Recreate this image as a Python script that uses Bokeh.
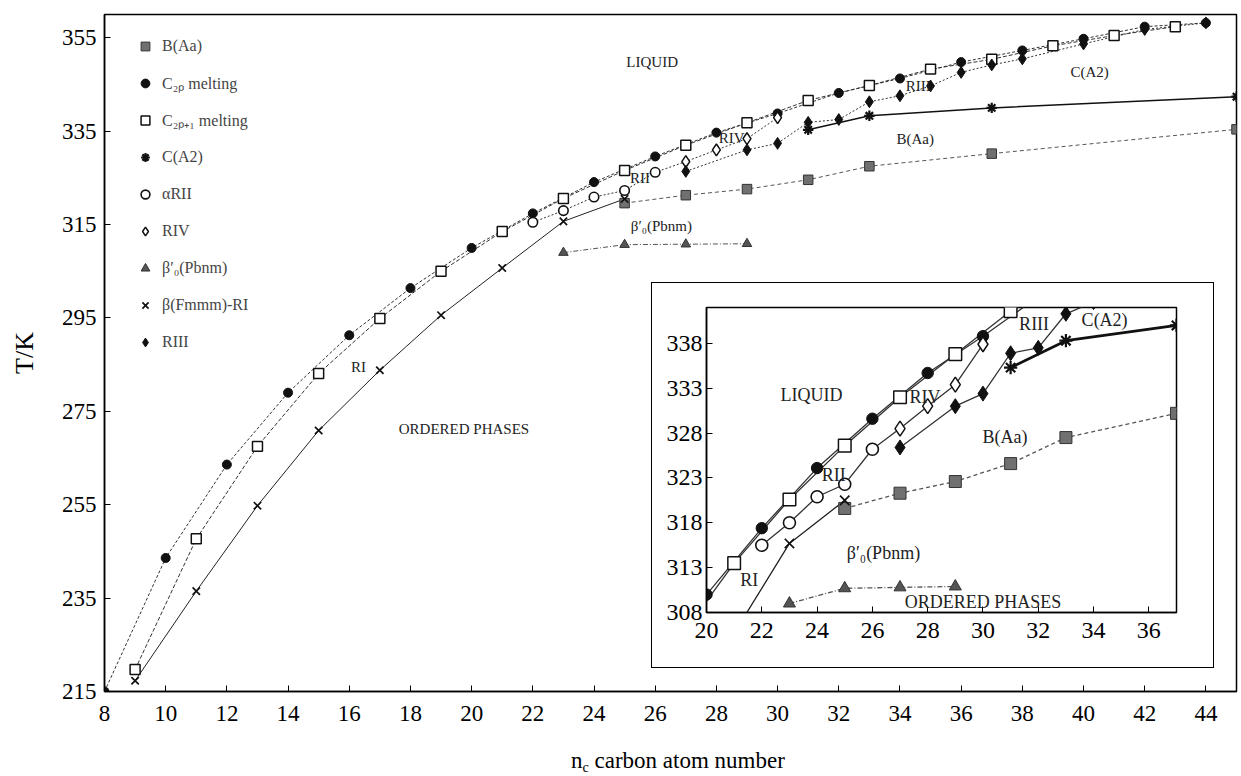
from bokeh.plotting import figure
from bokeh.models import FixedTicker, Legend, LegendItem, Label, Range1d, Div
from bokeh.embed import file_html
from bokeh.resources import INLINE

# ---------------- data ----------------
n_b_aa = [25, 27, 29, 31, 33, 37, 45]
t_b_aa = [319.6, 321.3, 322.6, 324.6, 327.5, 330.2, 335.4]

n_c2p = [8, 10, 12, 14, 16, 18, 20, 22, 24, 26, 28, 30, 32, 34, 36, 38, 40, 42, 44]
t_c2p = [215.0, 243.6, 263.6, 279.0, 291.3, 301.4, 310.0, 317.4, 324.1, 329.6,
         334.7, 338.8, 343.2, 346.3, 349.8, 352.3, 354.8, 357.4, 358.2]

n_c2p1 = [9, 11, 13, 15, 17, 19, 21, 23, 25, 27, 29, 31, 33, 35, 37, 39, 41, 43]
t_c2p1 = [219.7, 247.7, 267.5, 283.1, 294.9, 305.0, 313.5, 320.6, 326.6, 332.0,
          336.8, 341.6, 344.8, 348.3, 350.4, 353.3, 355.5, 357.4]

n_ca2 = [31, 33, 37, 45]
t_ca2 = [335.3, 338.3, 340.0, 342.4]

n_arii = [22, 23, 24, 25, 26]
t_arii = [315.5, 318.0, 320.9, 322.3, 326.2]

n_riv = [27, 28, 29, 30]
t_riv = [328.5, 331.0, 333.4, 337.9]

n_beta0 = [23, 25, 27, 29]
t_beta0 = [309.0, 310.7, 310.8, 310.9]

n_ri = [9, 11, 13, 15, 17, 19, 21, 23, 25]
t_ri = [217.3, 236.5, 254.8, 270.9, 283.8, 295.6, 305.7, 315.7, 320.5]

n_riii = [27, 29, 30, 31, 32, 33, 34, 35, 36, 37, 38, 40, 42, 44]
t_riii = [326.4, 331.0, 332.4, 336.9, 337.5, 341.3, 342.6, 344.7, 347.6, 349.2,
          350.5, 353.7, 356.8, 358.2]

legend_labels = ["B(Aa)", "C\u2082\u209a melting", "C\u2082\u209a\u208a\u2081 melting", "C(A2)",
                 "\u03b1RII", "RIV", "\u03b2\u2032\u2080(Pbnm)", "\u03b2(Fmmm)-RI", "RIII"]

main_x_ticks = list(range(8, 45, 2))
main_y_ticks = [215, 235, 255, 275, 295, 315, 335, 355]
inset_x_ticks = list(range(20, 37, 2))
inset_y_ticks = [308, 313, 318, 323, 328, 333, 338]

main_notes = ["LIQUID", "C(A2)", "B(Aa)", "RIII", "RIV", "RII", "\u03b2\u2032\u2080(Pbnm)", "RI", "ORDERED PHASES"]
main_notes_n = [25.9, 40.2, 34.5, 34.6, 28.5, 25.5, 26.2, 16.3, 19.75]
main_notes_t = [349.8, 347.7, 333.3, 344.7, 333.5, 325.0, 314.6, 284.5, 271.3]

inset_notes = ["LIQUID", "RIV", "RIII", "C(A2)", "B(Aa)", "RII", "\u03b2\u2032\u2080(Pbnm)", "RI", "ORDERED PHASES"]
inset_notes_n = [23.8, 27.9, 31.85, 34.4, 30.8, 24.6, 26.4, 21.55, 30.0]
inset_notes_t = [332.2, 332.0, 340.2, 340.6, 327.6, 323.3, 314.6, 311.6, 309.2]

x_title_html = ("n<span style='font-size:14px; position:relative; top:4px'>c</span>"
                " carbon atom number")

SERIF = "Liberation Serif"
INK = "#111111"


def draw_series(fig, s, lw, inset):
    thin = lw
    fig.line(n_c2p, t_c2p, line_color="#333333", line_width=thin, line_dash="solid" if inset else "3 2")
    fig.line(n_c2p1, t_c2p1, line_color="#333333", line_width=thin, line_dash="solid" if inset else "4 2")
    fig.line(n_ri, t_ri, line_color="#222222", line_width=thin)
    fig.line(n_arii + n_riv, t_arii + t_riv, line_color="#333333", line_width=thin,
             line_dash="solid" if inset else "2 2")
    fig.line(n_riii, t_riii, line_color="#333333", line_width=thin, line_dash="solid" if inset else "2 2")
    fig.line(n_ca2, t_ca2, line_color="#111111", line_width=thin * (2.2 if inset else 1.5))
    fig.line(n_b_aa, t_b_aa, line_color="#555555", line_width=thin, line_dash="4 3")
    fig.line(n_beta0, t_beta0, line_color="#555555", line_width=thin, line_dash="5 2 1 2")
    r = {}
    r["b_aa"] = fig.scatter(n_b_aa, t_b_aa, marker="square", size=s, fill_color="#707070", line_color="#333333", line_width=1)
    r["c2p"] = fig.scatter(n_c2p, t_c2p, marker="circle", size=s * 0.95, fill_color=INK, line_color=INK)
    r["c2p1"] = fig.scatter(n_c2p1, t_c2p1, marker="square", size=s * 1.05, fill_color="white", line_color=INK, line_width=1.5)
    r["ca2"] = fig.scatter(n_ca2, t_ca2, marker="asterisk", size=s * 1.1, line_color=INK, line_width=2.2)
    r["arii"] = fig.scatter(n_arii, t_arii, marker="circle", size=s, fill_color="white", line_color=INK, line_width=1.6)
    r["riv"] = fig.scatter(n_riv, t_riv, marker="diamond", size=s * 1.25, fill_color="white", line_color=INK, line_width=1.5)
    r["beta0"] = fig.scatter(n_beta0, t_beta0, marker="triangle", size=s, fill_color="#555555", line_color="#333333")
    r["ri"] = fig.scatter(n_ri, t_ri, marker="x", size=s * 1.1, line_color=INK, line_width=1.7)
    r["riii"] = fig.scatter(n_riii, t_riii, marker="diamond", size=s * 1.25, fill_color=INK, line_color=INK)
    return r


def style_axes(fig, xt, yt, font_size):
    fig.grid.visible = False
    fig.outline_line_color = "black"
    fig.outline_line_width = 1.5
    fig.xaxis.ticker = FixedTicker(ticks=xt)
    fig.yaxis.ticker = FixedTicker(ticks=yt)
    for ax in (fig.xaxis, fig.yaxis):
        ax.major_tick_in = 6
        ax.major_tick_out = 0
        ax.minor_tick_line_color = None
        ax.axis_line_width = 1.5
        ax.axis_line_color = "black"
        ax.major_tick_line_color = "black"
        ax.major_label_text_font = SERIF
        ax.major_label_text_font_size = font_size
        ax.major_label_text_color = "black"


# ---------------- main figure ----------------
p = figure(frame_width=1132, frame_height=677, x_range=Range1d(8, 45), y_range=Range1d(215, 360),
           output_backend="svg", toolbar_location=None,
           min_border_left=104, min_border_right=4, min_border_top=14, min_border_bottom=85)
style_axes(p, main_x_ticks, main_y_ticks, "23px")
p.xaxis.major_label_standoff = 14
p.yaxis.major_label_standoff = 8
p.yaxis.axis_label = "T/K"
p.yaxis.axis_label_text_font = SERIF
p.yaxis.axis_label_text_font_size = "26px"
p.yaxis.axis_label_text_font_style = "normal"
p.yaxis.axis_label_text_color = "black"
p.yaxis.axis_label_standoff = 20

rm = draw_series(p, 9.5, 1.0, False)

keys = ["b_aa", "c2p", "c2p1", "ca2", "arii", "riv", "beta0", "ri", "riii"]
items = [LegendItem(label=lab, renderers=[rm[k]]) for lab, k in zip(legend_labels, keys)]
legend = Legend(items=items, location=(30, 338), border_line_color=None, background_fill_alpha=0,
                label_text_font=SERIF, label_text_font_size="16px", glyph_width=22, glyph_height=22,
                label_height=20, spacing=15, padding=0, margin=0, label_standoff=6)
p.add_layout(legend)

for txt, xn, yt in zip(main_notes, main_notes_n, main_notes_t):
    p.add_layout(Label(x=xn, y=yt, text=txt, text_align="center", text_baseline="middle",
                       text_font=SERIF, text_font_size="15px", text_color="#222222"))

# ---------------- x-axis title (HTML, for the subscript) ----------------
xtitle = Div(text=x_title_html, width=260, height=30,
             styles={"position": "absolute", "left": "566px", "top": "743px",
                     "font-family": SERIF, "font-size": "23px", "color": "black",
                     "white-space": "nowrap", "line-height": "26px"})

# ---------------- inset figure ----------------
inset = figure(width=561, height=384, x_range=Range1d(20, 37), y_range=Range1d(308, 342),
               output_backend="svg", toolbar_location=None,
               min_border_left=54, min_border_right=37, min_border_top=24, min_border_bottom=55,
               styles={"position": "absolute", "left": "652px", "top": "283px",
                       "outline": "1.5px solid black", "background": "white"})
style_axes(inset, inset_x_ticks, inset_y_ticks, "24px")
inset.xaxis.major_label_standoff = 10
inset.yaxis.major_label_standoff = 4
draw_series(inset, 12, 1.3, True)
for txt, xn, yt in zip(inset_notes, inset_notes_n, inset_notes_t):
    inset.add_layout(Label(x=xn, y=yt, text=txt, text_align="center", text_baseline="middle",
                           text_font=SERIF, text_font_size="18px", text_color="#222222"))

open("out.html", "w").write(file_html([p, inset, xtitle], INLINE))
